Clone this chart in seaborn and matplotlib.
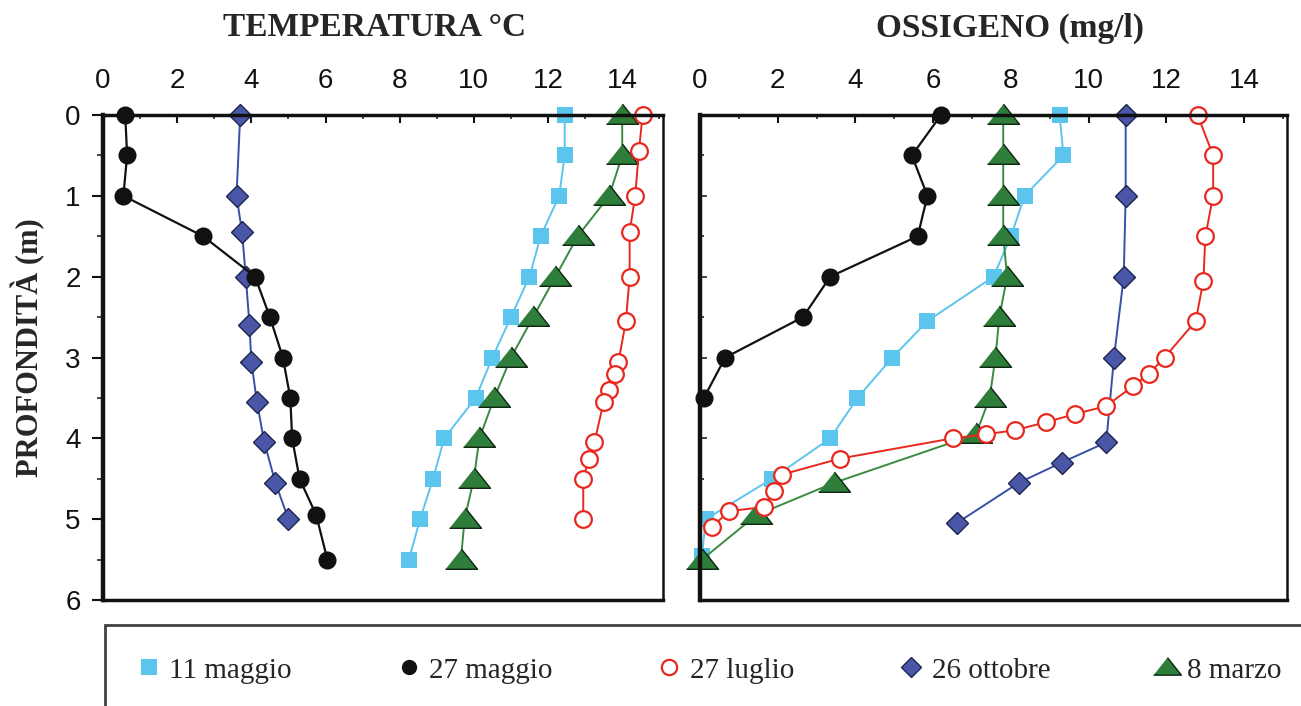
import numpy as np
import pandas as pd
import seaborn as sns
import matplotlib.pyplot as plt
from matplotlib.lines import Line2D
from matplotlib.ticker import MultipleLocator

# temperature profiles (degC) vs depth (m)
temp_may11_depth = [0, 0.5, 1, 1.5, 2, 2.5, 3, 3.5, 4, 4.5, 5, 5.5]
temp_may11 = [12.45, 12.45, 12.3, 11.8, 11.5, 11.0, 10.5, 10.05, 9.2, 8.9, 8.55, 8.25]
temp_may27_depth = [0, 0.5, 1, 1.5, 2, 2.5, 3, 3.5, 4, 4.5, 4.95, 5.5]
temp_may27 = [0.6, 0.65, 0.55, 2.7, 4.1, 4.5, 4.85, 5.05, 5.1, 5.3, 5.75, 6.05]
temp_jul27_depth = [0, 0.45, 1, 1.45, 2, 2.55, 3.05, 3.2, 3.4, 3.55, 4.05, 4.25, 4.5, 5.0]
temp_jul27 = [14.55, 14.45, 14.35, 14.2, 14.2, 14.1, 13.9, 13.8, 13.65, 13.5, 13.25, 13.1, 12.95, 12.95]
temp_oct26_depth = [0, 1, 1.45, 2, 2.6, 3.05, 3.55, 4.05, 4.55, 5.0]
temp_oct26 = [3.7, 3.6, 3.75, 3.85, 3.95, 4.0, 4.15, 4.35, 4.65, 5.0]
temp_mar8_depth = [0, 0.5, 1, 1.5, 2, 2.5, 3, 3.5, 4, 4.5, 5, 5.5]
temp_mar8 = [14.0, 14.0, 13.65, 12.8, 12.2, 11.6, 11.0, 10.55, 10.15, 10.0, 9.75, 9.65]

# oxygen profiles (mg/l) vs depth (m)
ox_may11_depth = [0, 0.5, 1, 1.5, 2, 2.55, 3, 3.5, 4, 4.5, 5, 5.45]
ox_may11 = [9.25, 9.35, 8.35, 8.0, 7.55, 5.85, 4.95, 4.05, 3.35, 1.85, 0.15, 0.05]
ox_may27_depth = [0, 0.5, 1, 1.5, 2, 2.5, 3, 3.5]
ox_may27 = [6.2, 5.45, 5.85, 5.6, 3.35, 2.65, 0.65, 0.1]
ox_jul27_depth = [0, 0.5, 1, 1.5, 2.05, 2.55, 3, 3.2, 3.35, 3.6, 3.7, 3.8, 3.9, 3.95,
                  4.0, 4.25, 4.45, 4.65, 4.85, 4.9, 5.1]
ox_jul27 = [12.8, 13.2, 13.2, 13.0, 12.95, 12.75, 11.95, 11.55, 11.15, 10.45, 9.65, 8.9, 8.1, 7.35,
            6.5, 3.6, 2.1, 1.9, 1.65, 0.75, 0.3]
ox_oct26_depth = [0, 1, 2, 3, 4.05, 4.3, 4.55, 5.05]
ox_oct26 = [10.95, 10.95, 10.9, 10.65, 10.45, 9.3, 8.2, 6.6]
ox_mar8_depth = [0, 0.5, 1, 1.5, 2, 2.5, 3, 3.5, 3.95, 4.55, 4.95, 5.5]
ox_mar8 = [7.8, 7.8, 7.8, 7.8, 7.9, 7.7, 7.6, 7.45, 7.1, 3.45, 1.45, 0.05]

labels = ['11 maggio', '27 maggio', '27 luglio', '26 ottobre', '8 marzo']

tri = [(-1, -0.55), (1, -0.55), (0, 0.71)]
styles = {
    '11 maggio': dict(marker='s', ms=12, mfc='#5cc5ee', mec='#5cc5ee', mew=0, color='#5cc5ee', lw=1.4),
    '27 maggio': dict(marker='o', ms=13, mfc='#111111', mec='#111111', mew=0, color='#111111', lw=1.6),
    '27 luglio': dict(marker='o', ms=12, mfc='white', mec='#e8281e', mew=1.6, color='#e8281e', lw=1.4),
    '26 ottobre': dict(marker='D', ms=11, mfc='#4a56a6', mec='#1d2550', mew=1.0, color='#3550a8', lw=1.4),
    '8 marzo': dict(marker=tri, ms=23, mfc='#2e7d3a', mec='#0c2410', mew=1.0, color='#3a8a3f', lw=1.4),
}
legend_ms = {'11 maggio': 11, '27 maggio': 11, '27 luglio': 11, '26 ottobre': 10, '8 marzo': 20}

temp_series = {
    '11 maggio': (temp_may11, temp_may11_depth),
    '27 maggio': (temp_may27, temp_may27_depth),
    '27 luglio': (temp_jul27, temp_jul27_depth),
    '26 ottobre': (temp_oct26, temp_oct26_depth),
    '8 marzo': (temp_mar8, temp_mar8_depth),
}
ox_series = {
    '11 maggio': (ox_may11, ox_may11_depth),
    '27 maggio': (ox_may27, ox_may27_depth),
    '27 luglio': (ox_jul27, ox_jul27_depth),
    '26 ottobre': (ox_oct26, ox_oct26_depth),
    '8 marzo': (ox_mar8, ox_mar8_depth),
}

sns.set_theme(style='white')
plt.rcParams['font.family'] = ['Liberation Sans', 'DejaVu Sans']
serif = ['Liberation Serif', 'DejaVu Serif']

fig = plt.figure(figsize=(13.01, 7.06), dpi=100)
ax_t = fig.add_axes([103/1301, 1-600/706, 560/1301, 485/706])
ax_o = fig.add_axes([700/1301, 1-600/706, 587/1301, 485/706])

order = ['26 ottobre', '27 maggio', '11 maggio', '8 marzo', '27 luglio']
for ax, series in [(ax_t, temp_series), (ax_o, ox_series)]:
    for name in order:
        vals, dep = series[name]
        df = pd.DataFrame({'val': vals, 'depth': dep})
        sns.lineplot(data=df, x='val', y='depth', sort=False, estimator=None,
                     ax=ax, clip_on=False, legend=False, **styles[name])

    ax.set_xlim(0, 15.1)
    ax.set_ylim(6, 0)
    ax.xaxis.tick_top()
    ax.xaxis.set_major_locator(MultipleLocator(2))
    ax.xaxis.set_minor_locator(MultipleLocator(1))
    ax.yaxis.set_major_locator(MultipleLocator(1))
    ax.yaxis.set_minor_locator(MultipleLocator(0.5))
    ax.tick_params(axis='x', which='major', direction='in', length=6, width=1.5,
                   labelsize=20, pad=15, top=True, bottom=False, colors='#111111')
    ax.tick_params(axis='x', which='minor', direction='in', length=3, width=1.2,
                   top=True, bottom=False)
    ax.set_xlabel('')
    ax.set_ylabel('')
    for side in ['top', 'bottom']:
        ax.spines[side].set_linewidth(2.5)
        ax.spines[side].set_color('#111111')
    ax.spines['left'].set_linewidth(3.2)
    ax.spines['left'].set_color('#111111')
    ax.spines['right'].set_linewidth(1.8)
    ax.spines['right'].set_color('#111111')

ax_t.tick_params(axis='y', which='major', direction='out', length=8, width=1.5,
                 labelsize=20, pad=8, left=True, colors='#111111')
ax_t.tick_params(axis='y', which='minor', direction='out', length=4, width=1.2, left=True)
ax_t.set_ylabel('PROFONDITÀ (m)', fontsize=22, fontweight='bold', family=serif)
ax_t.yaxis.set_label_coords(-0.104, 0.52)
ax_o.tick_params(axis='y', which='both', direction='in', length=5, width=1.2,
                 left=True, labelleft=False)
ax_o.tick_params(axis='y', which='minor', length=3)

fig.text(375/1301, 1-28/706, 'TEMPERATURA °C', ha='center', va='center',
         fontsize=24, fontweight='bold', family=serif)
fig.text(1010/1301, 1-28/706, 'OSSIGENO (mg/l)', ha='center', va='center',
         fontsize=24, fontweight='bold', family=serif)

handles = []
for name in labels:
    st = styles[name]
    handles.append(Line2D([], [], linestyle='none', marker=st['marker'],
                          markersize=legend_ms[name],
                          markerfacecolor=st['mfc'], markeredgecolor=st['mec'],
                          markeredgewidth=st['mew']))
leg = fig.legend(handles, labels, loc='upper left', ncol=5, mode='expand',
                 bbox_to_anchor=(105/1301, 1-625/706, 1-105/1301+0.01, 0),
                 borderaxespad=0, frameon=True, fancybox=False, borderpad=1.1,
                 handlelength=0.8, handletextpad=0.3,
                 prop={'family': serif, 'size': 21})
leg.get_frame().set_edgecolor('#111111')
leg.get_frame().set_linewidth(2.0)

fig.savefig('out.png', dpi=100, facecolor='white')
